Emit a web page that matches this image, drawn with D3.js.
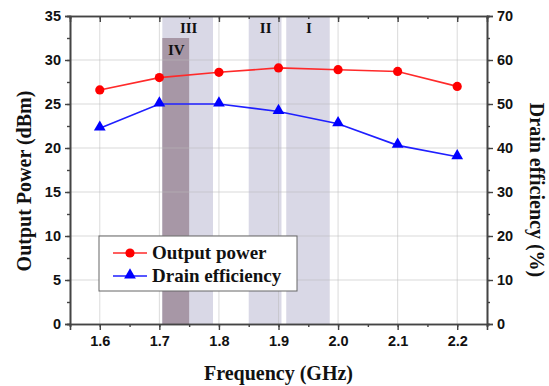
<!DOCTYPE html>
<html>
<head>
<meta charset="utf-8">
<script src="https://cdn.jsdelivr.net/npm/d3@7"></script>
<style>
  body { margin: 0; background: #fff; }
  .tick-lbl { font-family: "Liberation Sans", Arial, sans-serif; font-weight: bold; font-size: 14.5px; fill: #111; }
  .title { font-family: "Liberation Serif", "Times New Roman", serif; font-weight: bold; font-size: 20px; fill: #111; }
</style>
</head>
<body>
<div id="chart"></div>
<script>
// data
const freqs = [1.6, 1.7, 1.8, 1.9, 2.0, 2.1, 2.2];
const outputPower = [26.6, 28.0, 28.6, 29.1, 28.9, 28.7, 27.0];
const drainEff = [44.5, 50.0, 50.0, 48.3, 45.5, 40.6, 38.0];

// shaded bands (GHz), IV is the darker overlay
const bandNames = ['III', 'II', 'I', 'IV'];
const bandStart = [1.705, 1.85, 1.913, 1.705];
const bandEnd = [1.79, 1.905, 1.986, 1.75];
const bandTop = [35, 35, 35, 32.5];

const xTicks = [1.6, 1.7, 1.8, 1.9, 2.0, 2.1, 2.2];
const yLeftTicks = [0, 5, 10, 15, 20, 25, 30, 35];
const yRightTicks = [0, 10, 20, 30, 40, 50, 60, 70];

const width = 549, height = 386;
const margin = { top: 16, right: 62, bottom: 62, left: 70 };
const x0 = margin.left, x1 = width - margin.right;
const y0 = height - margin.bottom, y1 = margin.top;

const svg = d3.select('#chart').append('svg')
  .attr('width', width)
  .attr('height', height);

const x = d3.scaleLinear().domain([1.55, 2.25]).range([x0, x1]);
const yL = d3.scaleLinear().domain([0, 35]).range([y0, y1]);
const yR = d3.scaleLinear().domain([0, 70]).range([y0, y1]);

// bands
const bands = bandNames.map((n, i) => ({ name: n, s: bandStart[i], e: bandEnd[i], top: bandTop[i] }));
svg.selectAll('.band')
  .data(bands)
  .enter().append('rect')
  .attr('class', 'band')
  .attr('x', d => x(d.s))
  .attr('y', d => yL(d.top))
  .attr('width', d => x(d.e) - x(d.s))
  .attr('height', d => yL(0) - yL(d.top))
  .attr('fill', d => d.name === 'IV' ? '#a797a6' : '#d9d8e6');

// grid
const grid = svg.append('g').attr('stroke', '#bbb').attr('stroke-opacity', 0.55).attr('stroke-width', 1);
grid.selectAll('.gx').data(xTicks).enter().append('line')
  .attr('x1', d => x(d)).attr('x2', d => x(d))
  .attr('y1', y0).attr('y2', y1);
grid.selectAll('.gy').data(yLeftTicks.slice(1, -1)).enter().append('line')
  .attr('y1', d => yL(d)).attr('y2', d => yL(d))
  .attr('x1', x0).attr('x2', x1);

// band labels
const labelY = { 'III': 33, 'II': 33, 'I': 33, 'IV': 55 };
svg.selectAll('.blbl')
  .data(bands)
  .enter().append('text')
  .attr('class', 'title')
  .style('font-size', '15px')
  .attr('text-anchor', 'middle')
  .attr('x', d => d.name === 'IV' ? (x(d.s) + x(d.e)) / 2 + 0.5 : d.name === 'II' ? x(d.s) + 17 : (x(d.s) + x(d.e)) / 2 + 1)
  .attr('y', d => labelY[d.name])
  .text(d => d.name);

// axes
const axisColor = '#444';
const minorX = d3.range(1.55, 2.2501, 0.05);
const minorL = d3.range(0, 35.01, 2.5);

svg.append('g')
  .attr('transform', 'translate(0,' + y0 + ')')
  .call(d3.axisBottom(x).tickValues(minorX).tickSize(3).tickFormat(''));
svg.append('g')
  .attr('transform', 'translate(0,' + y0 + ')')
  .call(d3.axisBottom(x).tickValues(xTicks).tickSize(6).tickPadding(6).tickFormat(d3.format('.1f')));
svg.append('g')
  .attr('transform', 'translate(0,' + y1 + ')')
  .call(d3.axisTop(x).tickValues(minorX).tickSize(-3).tickFormat(''));
svg.append('g')
  .attr('transform', 'translate(0,' + y1 + ')')
  .call(d3.axisTop(x).tickValues(xTicks).tickSize(-6).tickFormat(''));

svg.append('g')
  .attr('transform', 'translate(' + x0 + ',0)')
  .call(d3.axisLeft(yL).tickValues(minorL).tickSize(3).tickFormat(''));
svg.append('g')
  .attr('transform', 'translate(' + x0 + ',0)')
  .call(d3.axisLeft(yL).tickValues(yLeftTicks).tickSize(5).tickPadding(4));

svg.append('g')
  .attr('transform', 'translate(' + x1 + ',0)')
  .call(d3.axisRight(yR).tickValues(d3.range(0, 70.01, 5)).tickSize(3).tickFormat(''));
svg.append('g')
  .attr('transform', 'translate(' + x1 + ',0)')
  .call(d3.axisRight(yR).tickValues(yRightTicks).tickSize(6).tickPadding(4));

svg.selectAll('.domain').attr('stroke', axisColor).attr('stroke-width', 1.6);
svg.selectAll('.tick line').attr('stroke', axisColor).attr('stroke-width', 1.4);
svg.selectAll('.tick text').attr('class', 'tick-lbl').attr('font-size', null).attr('font-family', null);

// series
const lineL = d3.line().x((d, i) => x(freqs[i])).y(d => yL(d));
const lineR = d3.line().x((d, i) => x(freqs[i])).y(d => yR(d));

svg.append('path').datum(outputPower)
  .attr('d', lineL).attr('fill', 'none').attr('stroke', '#ff2a2a').attr('stroke-width', 1.6);
svg.append('path').datum(drainEff)
  .attr('d', lineR).attr('fill', 'none').attr('stroke', '#1f1fff').attr('stroke-width', 1.6);

svg.selectAll('.pt-red').data(outputPower).enter().append('circle')
  .attr('cx', (d, i) => x(freqs[i])).attr('cy', d => yL(d))
  .attr('r', 4.6).attr('fill', '#ff0000');

const tri = d3.symbol().type(d3.symbolTriangle).size(60);
svg.selectAll('.pt-blue').data(drainEff).enter().append('path')
  .attr('transform', (d, i) => 'translate(' + x(freqs[i]) + ',' + (yR(d) - 1) + ')')
  .attr('d', tri).attr('fill', '#0000ff');

// axis titles
svg.append('text').attr('class', 'title')
  .attr('text-anchor', 'middle')
  .attr('x', (x0 + x1) / 2)
  .attr('y', 380)
  .text('Frequency (GHz)');

svg.append('text').attr('class', 'title')
  .attr('text-anchor', 'middle')
  .attr('transform', 'translate(31,181) rotate(-90)')
  .text('Output Power (dBm)');

svg.append('text').attr('class', 'title')
  .attr('text-anchor', 'middle')
  .attr('transform', 'translate(529,190) rotate(90)')
  .attr('transform', 'translate(530,190) rotate(90)')
  .text('Drain efficiency (%)');

// legend
const lg = svg.append('g');
lg.append('rect')
  .attr('x', 99).attr('y', 236).attr('width', 198).attr('height', 55)
  .attr('fill', '#fff').attr('stroke', '#666').attr('stroke-width', 1);

const legendNames = ['Output power', 'Drain efficiency'];
const legendColors = ['#ff2a2a', '#1f1fff'];
legendNames.forEach((name, i) => {
  const cy = 253 + i * 23;
  lg.append('line').attr('x1', 113).attr('x2', 147).attr('y1', cy).attr('y2', cy)
    .attr('stroke', legendColors[i]).attr('stroke-width', 1.6);
  if (i === 0) {
    lg.append('circle').attr('cx', 130).attr('cy', cy).attr('r', 4.6).attr('fill', '#ff0000');
  } else {
    lg.append('path').attr('transform', 'translate(130,' + (cy - 1) + ')').attr('d', tri).attr('fill', '#0000ff');
  }
  lg.append('text').attr('class', 'title')
    .style('font-size', '19px')
    .attr('x', 152).attr('y', cy + 6)
    .text(name);
});
</script>
</body>
</html>
